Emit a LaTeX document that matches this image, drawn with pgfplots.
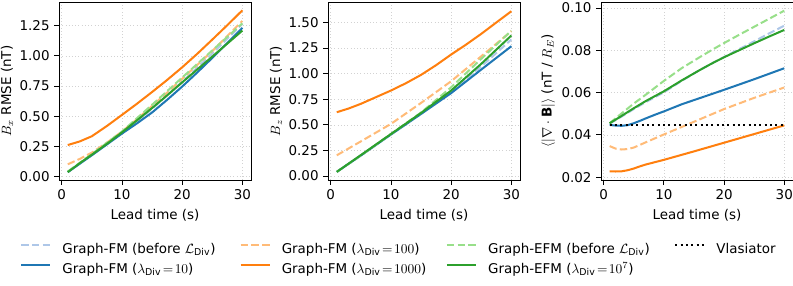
\documentclass[border=0pt]{standalone}
\usepackage{pgfplots}
\pgfplotsset{compat=1.18}
\usepackage{fontspec}
\setmainfont{DejaVu Sans}
\definecolor{cB}{HTML}{1F77B4}
\definecolor{cLB}{HTML}{AEC7E8}
\definecolor{cO}{HTML}{FF7F0E}
\definecolor{cLO}{HTML}{FFBB78}
\definecolor{cG}{HTML}{2CA02C}
\definecolor{cLG}{HTML}{98DF8A}
\newcommand{\eq}{\mkern2mu{=}\mkern2mu}
\pgfplotsset{
  every axis/.style={
    scale only axis, width=142.8pt, height=132.3pt,
    xmin=-0.45, xmax=31.45, xtick={0,10,20,30},
    tick align=outside, xtick pos=bottom, ytick pos=left,
    major tick length=3.5pt,
    grid=major, major grid style={gray!35, line width=0.4pt, dotted},
    axis line style={line width=0.6pt},
    every tick/.style={black, line width=0.6pt},
    tick label style={font=\fontsize{10}{12}\selectfont},
    label style={font=\fontsize{10}{12}\selectfont},
    xlabel={Lead time (s)},
    ylabel near ticks,
    ylabel style={yshift=-2pt},
    /pgf/number format/assume math mode=true,
    yticklabel style={/pgf/number format/.cd, fixed, fixed zerofill, precision=2},
    scaled y ticks=false,
  },
  sol/.style={line width=1.5pt, line join=round},
  das/.style={line width=1.5pt, dash pattern=on 5.55pt off 2.4pt},
  dot/.style={line width=1.5pt, dash pattern=on 1.5pt off 2.475pt},
}
\begin{document}
\begin{tikzpicture}
\useasboundingbox (0pt,-78.1pt) rectangle (589.6pt,133.8pt);
% Axis 1: Bx RMSE
\begin{axis}[at={(43.9pt,0pt)}, ymin=-0.03, ymax=1.447,
  ytick={0,0.25,0.5,0.75,1,1.25}, ylabel={$B_x$ RMSE (nT)}]
\addplot[das, cLB] coordinates {(1,0.035)(5,0.18)(10,0.36)(15,0.56)(20,0.785)(25,1.02)(30,1.265)};
\addplot[sol, cB] coordinates {(1,0.035)(3,0.105)(5,0.175)(7.5,0.265)(10,0.355)(12.5,0.44)(15,0.53)(17.5,0.635)(20,0.745)(22.5,0.862)(25,0.983)(27.5,1.107)(30,1.233)};
\addplot[das, cLO] coordinates {(1,0.10)(3,0.145)(5,0.197)(7.5,0.28)(10,0.372)(12.5,0.475)(15,0.585)(17.5,0.695)(20,0.81)(25,1.04)(30,1.29)};
\addplot[sol, cO] coordinates {(1,0.26)(3,0.29)(5,0.333)(7.5,0.418)(10,0.51)(12.5,0.603)(15,0.70)(17.5,0.80)(20,0.905)(22.5,1.017)(25,1.135)(27.5,1.255)(30,1.378)};
\addplot[das, cLG] coordinates {(1,0.04)(5,0.185)(10,0.372)(15,0.594)(20,0.82)(25,1.045)(30,1.27)};
\addplot[sol, cG] coordinates {(1,0.035)(3,0.11)(5,0.18)(7.5,0.27)(10,0.365)(12.5,0.465)(15,0.567)(17.5,0.672)(20,0.78)(22.5,0.887)(25,0.994)(27.5,1.102)(30,1.21)};
\end{axis}
% Axis 2: Bz RMSE
\begin{axis}[at={(243.9pt,0pt)}, ymin=-0.039, ymax=1.70,
  ytick={0,0.25,0.5,0.75,1,1.25,1.5}, ylabel={$B_z$ RMSE (nT)}]
\addplot[das, cLB] coordinates {(1,0.04)(5,0.20)(10,0.41)(15,0.615)(20,0.83)(25,1.07)(30,1.334)};
\addplot[sol, cB] coordinates {(1,0.04)(5,0.20)(10,0.405)(15,0.606)(20,0.81)(25,1.04)(30,1.268)};
\addplot[das, cLO] coordinates {(1,0.202)(5,0.338)(10,0.509)(15,0.714)(20,0.926)(25,1.17)(30,1.415)};
\addplot[sol, cO] coordinates {(1,0.623)(3,0.66)(5,0.705)(7.5,0.77)(10,0.835)(12.5,0.907)(15,0.988)(17.5,1.083)(20,1.187)(22.5,1.285)(25,1.389)(27.5,1.50)(30,1.61)};
\addplot[das, cLG] coordinates {(1,0.04)(5,0.20)(10,0.41)(15,0.62)(20,0.867)(25,1.145)(30,1.42)};
\addplot[sol, cG] coordinates {(1,0.04)(5,0.204)(10,0.41)(15,0.616)(20,0.835)(25,1.096)(30,1.373)};
\end{axis}
% Axis 3: divergence
\begin{axis}[at={(446.8pt,0pt)}, ymin=0.0187, ymax=0.1028,
  ytick={0.02,0.04,0.06,0.08,0.1},
  ylabel={$\langle|\nabla\cdot\mathbf{B}|\rangle$ (nT / $R_E$)},
  legend columns=4,
  legend style={at={(-3.0245,-0.354)}, anchor=north west, draw=none, fill=none,
    font=\fontsize{10}{12}\selectfont, inner sep=0pt,
    nodes={inner sep=0pt, text height=7.5pt, text depth=2.5pt},
    row sep=4.9pt,
    /tikz/every odd column/.append style={column sep=8.2pt},
    /tikz/every even column/.append style={column sep=18pt}},
  legend cell align=left,
  legend image code/.code={\draw[#1] (0pt,3.6pt) -- (21.6pt,3.6pt);},
]
\addlegendimage{das, cLB}\addlegendentry{\makebox[113.8pt][l]{Graph-FM (before $\mathcal{L}_{\mathrm{Div}}$)}}
\addlegendimage{das, cLO}\addlegendentry{\makebox[104.1pt][l]{Graph-FM ($\lambda_{\mathrm{Div}}\eq100$)}}
\addlegendimage{das, cLG}\addlegendentry{\makebox[120.4pt][l]{Graph-EFM (before $\mathcal{L}_{\mathrm{Div}}$)}}
\addlegendimage{dot, black}\addlegendentry{Vlasiator}
\addlegendimage{sol, cB}\addlegendentry{\makebox[113.8pt][l]{Graph-FM ($\lambda_{\mathrm{Div}}\eq10$)}}
\addlegendimage{sol, cO}\addlegendentry{\makebox[104.1pt][l]{Graph-FM ($\lambda_{\mathrm{Div}}\eq1000$)}}
\addlegendimage{sol, cG}\addlegendentry{\makebox[120.4pt][l]{Graph-EFM ($\lambda_{\mathrm{Div}}\eq10^7$)}}
\addplot[das, cLB, forget plot] coordinates {(1,0.0453)(3,0.0487)(5,0.0522)(7,0.0555)(10,0.0601)(13,0.0656)(16,0.0707)(18,0.0738)(20,0.0768)(22.5,0.0805)(25,0.0842)(27.5,0.0880)(30,0.0916)};
\addplot[sol, cB, forget plot] coordinates {(1,0.0447)(2,0.0444)(3,0.0443)(4,0.0446)(5,0.0455)(6,0.0466)(7,0.0478)(8.5,0.0495)(10,0.0511)(13,0.0545)(16.3,0.0577)(20,0.0613)(25,0.0663)(30,0.0715)};
\addplot[das, cLO, forget plot] coordinates {(1,0.0347)(2,0.0335)(3,0.0331)(4,0.0333)(5,0.0340)(7,0.0365)(10,0.0402)(15,0.0462)(20,0.0522)(25,0.0575)(30,0.0624)};
\addplot[sol, cO, forget plot] coordinates {(1,0.0228)(2,0.0227)(3,0.0228)(4,0.0233)(5,0.0241)(6,0.0251)(7,0.0260)(10,0.0282)(15,0.0322)(20,0.0363)(25,0.0404)(30,0.0445)};
\addplot[das, cLG, forget plot] coordinates {(1,0.0455)(3,0.0502)(5,0.0548)(7,0.0590)(10,0.0655)(13,0.0716)(16,0.0768)(18,0.0802)(20,0.0834)(22.5,0.0873)(25,0.0911)(27.5,0.0949)(30,0.0987)};
\addplot[sol, cG, forget plot] coordinates {(1,0.0455)(3,0.0490)(5,0.0526)(7,0.0560)(10,0.0606)(13,0.0658)(16,0.0707)(18,0.0738)(20,0.0767)(22.5,0.0800)(25,0.0833)(27.5,0.0865)(30,0.0896)};
\addplot[dot, black, forget plot] coordinates {(1,0.0447)(30,0.0447)};
\end{axis}
\end{tikzpicture}
\end{document}
